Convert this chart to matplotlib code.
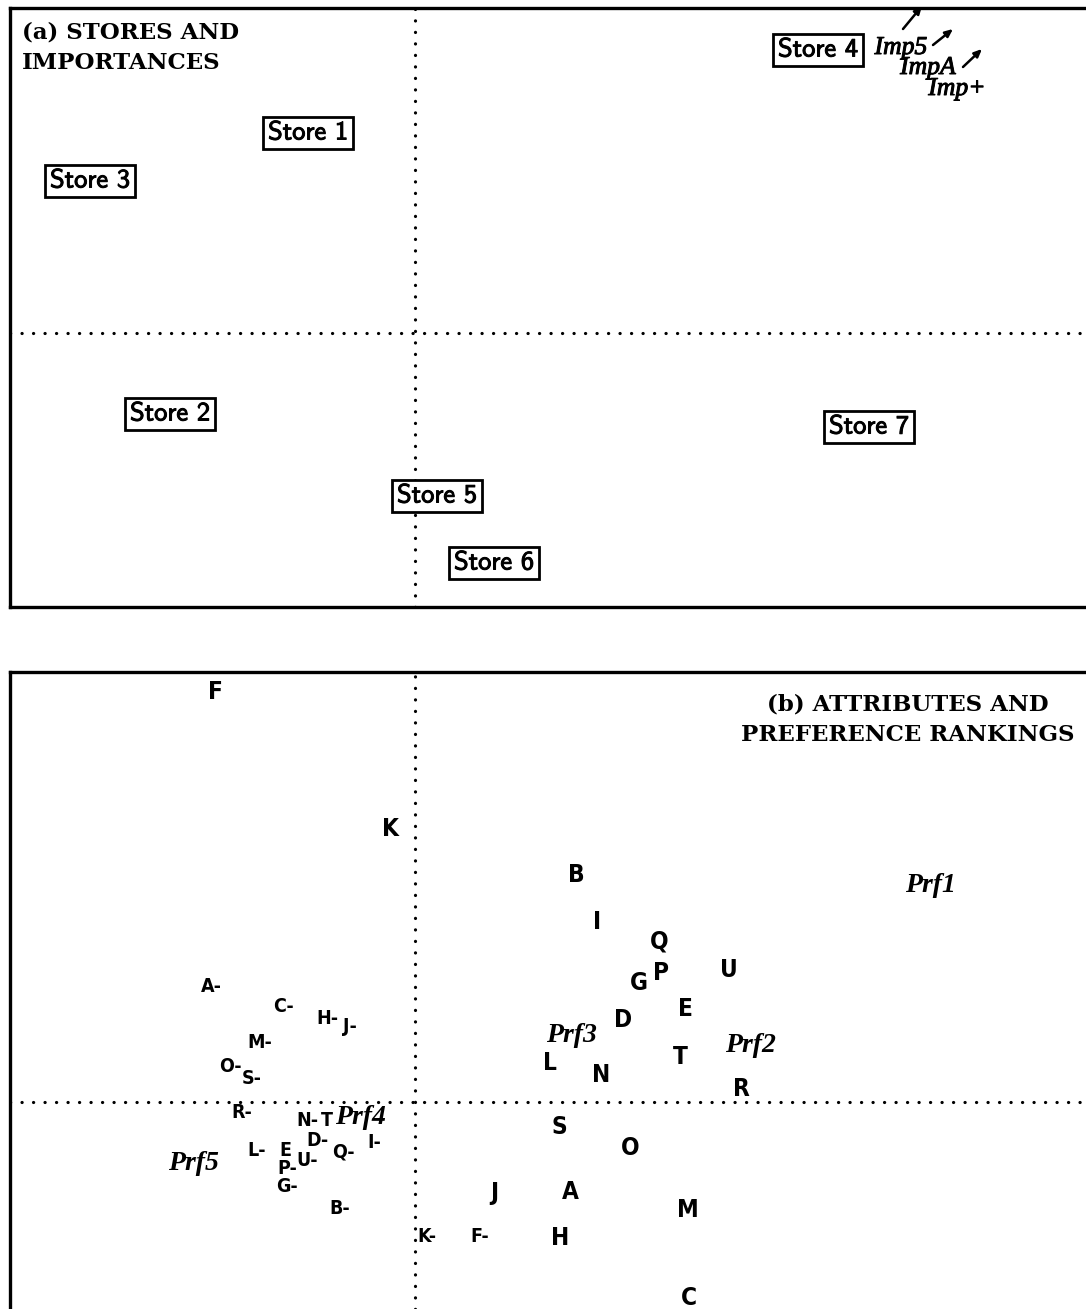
import matplotlib
matplotlib.use("Agg")
import matplotlib.pyplot as plt
import matplotlib.patheffects as pe

# ---------------- data (panel a) ----------------
store_names = ["Store 1", "Store 2", "Store 3", "Store 4", "Store 5", "Store 6", "Store 7"]
store_x = [-1.07, -2.45, -3.25, 4.03, 0.22, 0.79, 4.54]
store_y = [2.00, -0.81, 1.52, 2.83, -1.63, -2.30, -0.94]

imp_labels = ["Imp5", "ImpA", "Imp+"]
imp_x = [4.86, 5.13, 5.42]
imp_y = [2.85, 2.65, 2.44]

arrow_tail_x = [4.88, 5.18, 5.48]
arrow_tail_y = [3.04, 2.88, 2.66]
arrow_head_x = [5.07, 5.38, 5.67]
arrow_head_y = [3.27, 3.04, 2.84]

# ---------------- data (panel b) ----------------
attr_labels = ["F", "K", "B", "I", "Q", "G", "P", "U", "E", "D", "T", "L", "N", "R",
               "S", "O", "J", "A", "M", "H", "C"]
attr_x = [-2.00, -0.25, 1.61, 1.82, 2.44, 2.24, 2.46, 3.14, 2.70, 2.08, 2.65, 1.35, 1.86, 3.26,
          1.44, 2.15, 0.79, 1.55, 2.73, 1.45, 2.74]
attr_y = [4.10, 2.73, 2.27, 1.80, 1.61, 1.19, 1.29, 1.32, 0.93, 0.82, 0.45, 0.39, 0.27, 0.13,
          -0.25, -0.46, -0.91, -0.90, -1.08, -1.36, -1.96]

neg_labels = ["A-", "C-", "H-", "J-", "M-", "O-", "S-", "R-", "N-", "T", "D-", "I-", "Q-",
              "L-", "E", "U-", "P-", "G-", "B-", "K-", "F-"]
neg_x = [-2.04, -1.32, -0.88, -0.65, -1.55, -1.85, -1.63, -1.73, -1.08, -0.88, -0.97, -0.41, -0.72,
         -1.58, -1.30, -1.08, -1.28, -1.28, -0.75, 0.12, 0.65]
neg_y = [1.15, 0.95, 0.83, 0.75, 0.60, 0.36, 0.24, -0.10, -0.18, -0.18, -0.39, -0.41, -0.50,
         -0.49, -0.48, -0.58, -0.66, -0.85, -1.07, -1.35, -1.35]

prf_labels = ["Prf1", "Prf2", "Prf3", "Prf4", "Prf5"]
prf_x = [5.15, 3.35, 1.56, -0.55, -2.22]
prf_y = [2.17, 0.57, 0.67, -0.15, -0.61]

# ---------------- figure ----------------
W, H = 1086, 1309
fig = plt.figure(figsize=(W / 100, H / 100), dpi=100)
fig.patch.set_facecolor("white")


def px_axes(left, top, right, bottom):
    return fig.add_axes([left / W, 1 - bottom / H, (right - left) / W, (bottom - top) / H])


axa = px_axes(10, 8, 1086, 607)
axb = px_axes(10, 672, 1086, 1309)

axa.set_xlim(-4.05, 6.71)
axa.set_ylim(-2.74, 3.25)
axb.set_xlim(-4.05, 6.71)
axb.set_ylim(-2.07, 4.30)

dot_kw = dict(color="black", linewidth=2.3, linestyle=(0, (0.05, 3.55)),
              dash_capstyle="round", zorder=1)

for ax in (axa, axb):
    ax.set_xticks([])
    ax.set_yticks([])
    for s in ax.spines.values():
        s.set_linewidth(2.4)
    ax.spines["right"].set_visible(False)
    ax.axhline(0, **dot_kw)
    ax.axvline(0, **dot_kw)
axb.spines["bottom"].set_visible(False)

thick = [pe.withStroke(linewidth=0.7, foreground="black")]

# ---------------- panel a ----------------
axa.text(-3.93, 3.12, "(a) STORES AND\nIMPORTANCES", family="DejaVu Serif", weight="bold",
         fontsize=16.5, ha="left", va="top", linespacing=1.55)

for name, x, y in zip(store_names, store_x, store_y):
    axa.text(x, y, name, family="cmss10", fontsize=19, ha="center", va="center",
             zorder=3, path_effects=thick,
             bbox=dict(boxstyle="square,pad=0.18", fc="white", ec="black", lw=2.0))

for lab, x, y in zip(imp_labels, imp_x, imp_y):
    axa.text(x, y, lab, family="Liberation Serif", style="italic", fontsize=18.5,
             ha="center", va="center", zorder=3, path_effects=thick)

for tx, ty, hx, hy in zip(arrow_tail_x, arrow_tail_y, arrow_head_x, arrow_head_y):
    axa.annotate("", xy=(hx, hy), xytext=(tx, ty), annotation_clip=False,
                 arrowprops=dict(arrowstyle="-|>,head_length=0.45,head_width=0.2",
                                 color="black", lw=1.8, shrinkA=0, shrinkB=0))

# ---------------- panel b ----------------
axb.text(4.93, 3.82, "(b) ATTRIBUTES AND\nPREFERENCE RANKINGS", family="DejaVu Serif",
         weight="bold", fontsize=16.5, ha="center", va="center", linespacing=1.5)

for lab, x, y in zip(attr_labels, attr_x, attr_y):
    axb.text(x, y, lab, family="DejaVu Sans", stretch="condensed", weight="bold",
             fontsize=17.5, ha="center", va="center", zorder=3)

for lab, x, y in zip(neg_labels, neg_x, neg_y):
    axb.text(x, y, lab, family="DejaVu Sans", stretch="condensed", weight="bold",
             fontsize=14, ha="center", va="center", zorder=3)

for lab, x, y in zip(prf_labels, prf_x, prf_y):
    axb.text(x, y, lab, family="Liberation Serif", style="italic", weight="bold",
             fontsize=20, ha="center", va="center", zorder=4)

fig.savefig("out.png", dpi=100)
